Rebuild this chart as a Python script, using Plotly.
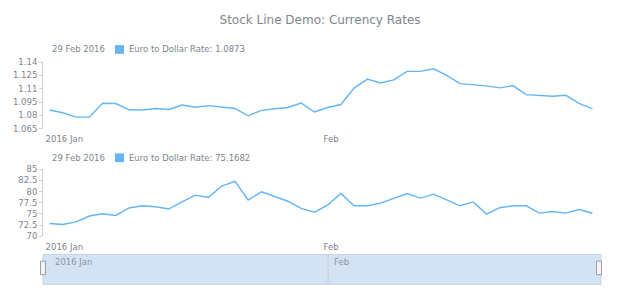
import plotly.graph_objects as go
import pandas as pd

# ---------------- data ----------------
dates = pd.bdate_range("2016-01-01", "2016-02-29").strftime("%Y-%m-%d").tolist()

eur_usd = [1.0860, 1.0830, 1.0780, 1.0780, 1.0936, 1.0933, 1.0863, 1.0860, 1.0878, 1.0867,
           1.0917, 1.0892, 1.0910, 1.0890, 1.0878, 1.0795, 1.0857, 1.0874, 1.0889, 1.0939,
           1.0838, 1.0889, 1.0922, 1.1107, 1.1208, 1.1164, 1.1200, 1.1295, 1.1295, 1.1324,
           1.1251, 1.1157, 1.1146, 1.1132, 1.1110, 1.1135, 1.1034, 1.1023, 1.1015, 1.1026,
           1.0936, 1.0873]

eur_rub = [72.88, 72.66, 73.24, 74.54, 75.04, 74.67, 76.34, 76.84, 76.62, 76.12,
           77.70, 79.22, 78.72, 81.25, 82.30, 78.14, 79.95, 78.87, 77.86, 76.27,
           75.40, 76.99, 79.59, 76.84, 76.84, 77.42, 78.50, 79.59, 78.57, 79.44,
           78.14, 76.84, 77.70, 74.97, 76.41, 76.84, 76.84, 75.19, 75.55, 75.19,
           76.00, 75.1682]

series_name = "Euro to Dollar Rate"
legend_date = "29 Feb 2016"
title_text = "Stock Line Demo: Currency Rates"
x_tick_vals = ["2016-01-01", "2016-02-01"]
x_tick_text = ["2016 Jan", "Feb"]

# ---------------- layout helpers ----------------
W, H = 620, 300
L, R = 43, 21
PW = W - L - R
FONT = "DejaVu Sans"
TXT = "#7c868e"
LINE = "#64b5f6"
AX = "#cfd3d6"


def px(xp):
    return (xp - L) / PW


def py(yp):
    return 1 - yp / H


fig = go.Figure()
fig.add_trace(go.Scatter(x=dates, y=eur_usd, mode="lines",
                         line=dict(color=LINE, width=1.4), xaxis="x", yaxis="y",
                         showlegend=False, hoverinfo="skip"))
fig.add_trace(go.Scatter(x=dates, y=eur_rub, mode="lines",
                         line=dict(color=LINE, width=1.4), xaxis="x2", yaxis="y2",
                         showlegend=False, hoverinfo="skip"))

xcommon = dict(type="category", range=[-0.5, len(dates) - 0.5], showgrid=False,
               zeroline=False, showline=False, ticks="", tickvals=x_tick_vals,
               ticktext=x_tick_text, ticklabelposition="outside right",
               ticklabelshift=-4, ticklabelstandoff=4,
               tickfont=dict(family=FONT, size=8.5, color=TXT))
ycommon = dict(showgrid=False, zeroline=False, showline=True, linecolor=AX,
               linewidth=1, ticks="outside", ticklen=3, tickcolor=AX,
               tickfont=dict(family=FONT, size=8.5, color=TXT))

fig.update_layout(
    width=W, height=H,
    margin=dict(l=L, r=R, t=0, b=0),
    paper_bgcolor="white", plot_bgcolor="white",
    title=dict(text=title_text, x=px(330), xanchor="center", y=py(20), yanchor="middle",
               font=dict(family=FONT, size=12, color=TXT)),
    xaxis=dict(domain=[0, 1], anchor="y", **xcommon),
    xaxis2=dict(domain=[0, 1], anchor="y2", **xcommon),
    yaxis=dict(domain=[py(128), py(59)], range=[1.065, 1.14], dtick=0.015,
               tick0=1.065, **ycommon),
    yaxis2=dict(domain=[py(239.3), py(170)], range=[70, 85], dtick=2.5,
                tick0=70, **ycommon),
)

annotations = []
shapes = []
for ycenter, val in [(46, eur_usd[-1]), (158, eur_rub[-1])]:
    annotations.append(dict(text=legend_date, x=px(50), y=py(ycenter), xref="paper",
                            yref="paper", xanchor="left", yanchor="middle",
                            showarrow=False, font=dict(family=FONT, size=8.5, color=TXT)))
    annotations.append(dict(text=f"{series_name}: {val:g}", x=px(127), y=py(ycenter),
                            xref="paper", yref="paper", xanchor="left", yanchor="middle",
                            showarrow=False, font=dict(family=FONT, size=8.5, color=TXT)))
    shapes.append(dict(type="rect", xref="paper", yref="paper",
                       x0=px(115), x1=px(124), y0=py(ycenter + 4.5), y1=py(ycenter - 4.5),
                       fillcolor=LINE, line=dict(width=0)))

# scroller
shapes.append(dict(type="rect", xref="paper", yref="paper", x0=px(43), x1=px(601),
                   y0=py(289), y1=py(258), fillcolor="#d4e3f4",
                   line=dict(color="#c4d3e4", width=1), layer="below"))
shapes.append(dict(type="line", xref="paper", yref="paper", x0=px(328), x1=px(328),
                   y0=py(289), y1=py(258), line=dict(color="#c3ccd6", width=1)))
for hx in (43, 599):
    shapes.append(dict(type="rect", xref="paper", yref="paper", x0=px(hx - 2.5),
                       x1=px(hx + 2.5), y0=py(279), y1=py(265), fillcolor="#f4f4f4",
                       line=dict(color="#9aa0a6", width=1)))
for t, xx in zip(x_tick_text, (53, 332)):
    annotations.append(dict(text=t, x=px(xx), y=py(266), xref="paper", yref="paper",
                            xanchor="left", yanchor="middle", showarrow=False,
                            font=dict(family=FONT, size=8.5, color="#8e969c")))

fig.update_layout(annotations=annotations, shapes=shapes)
fig.write_html("out.html")
